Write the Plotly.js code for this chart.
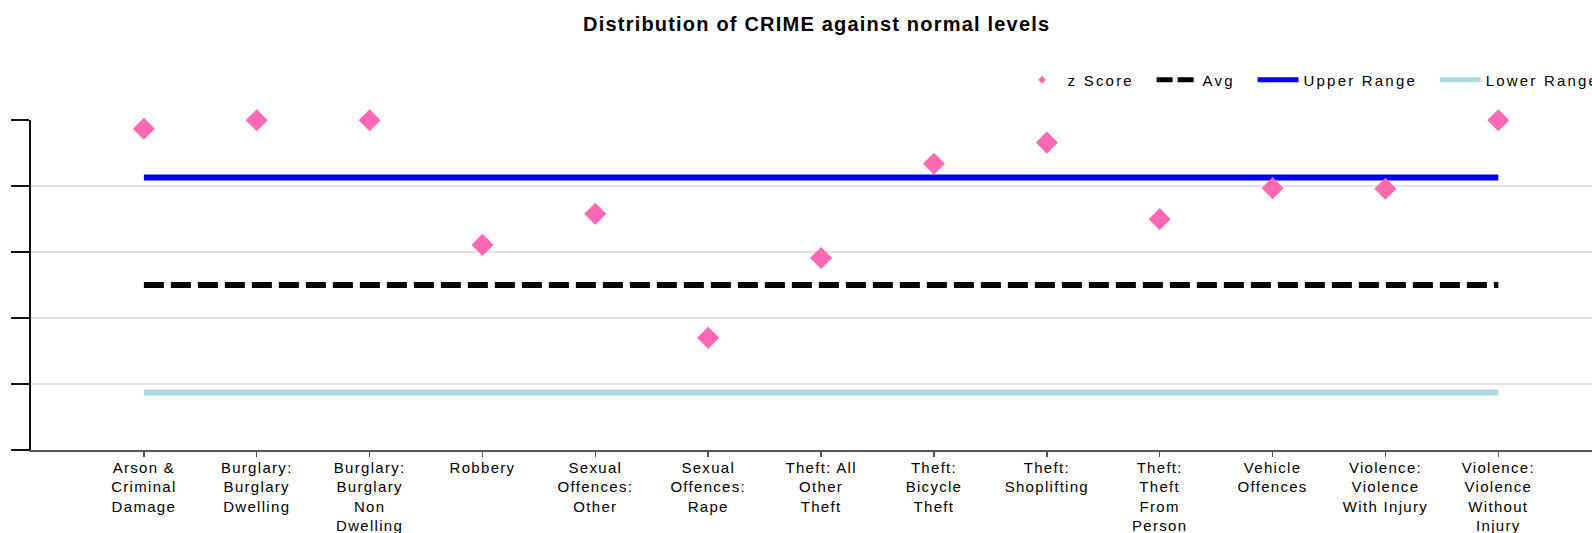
<!DOCTYPE html>
<html>
<head>
<meta charset="utf-8">
<script src="https://cdn.plot.ly/plotly-3.0.1.min.js"></script>
<style>
  html, body { margin: 0; padding: 0; background: #fff; }
  #chart { width: 1592px; height: 533px; }
  .xtick text { letter-spacing: 1.3px; }
  .legendtext { letter-spacing: 2.2px; }
  .gtitle { letter-spacing: 1.2px; }
</style>
</head>
<body>
<div id="chart"></div>
<script>
const categories = [
  "Arson & Criminal Damage",
  "Burglary: Burglary Dwelling",
  "Burglary: Burglary Non Dwelling",
  "Robbery",
  "Sexual Offences: Other",
  "Sexual Offences: Rape",
  "Theft: All Other Theft",
  "Theft: Bicycle Theft",
  "Theft: Shoplifting",
  "Theft: Theft From Person",
  "Vehicle Offences",
  "Violence: Violence With Injury",
  "Violence: Violence Without Injury"
];
const tickLabels = [
  "Arson &amp;<br>Criminal<br>Damage",
  "Burglary:<br>Burglary<br>Dwelling",
  "Burglary:<br>Burglary<br>Non<br>Dwelling",
  "Robbery",
  "Sexual<br>Offences:<br>Other",
  "Sexual<br>Offences:<br>Rape",
  "Theft: All<br>Other<br>Theft",
  "Theft:<br>Bicycle<br>Theft",
  "Theft:<br>Shoplifting",
  "Theft:<br>Theft<br>From<br>Person",
  "Vehicle<br>Offences",
  "Violence:<br>Violence<br>With Injury",
  "Violence:<br>Violence<br>Without<br>Injury"
];
const seriesNames = ["z Score", "Avg", "Upper Range", "Lower Range"];
const zScore = [2.37, 2.5, 2.5, 0.61, 1.08, -0.80, 0.41, 1.84, 2.16, 1.00, 1.47, 1.46, 2.5];
const avg = [0, 0, 0, 0, 0, 0, 0, 0, 0, 0, 0, 0, 0];
const upperRange = [1.63, 1.63, 1.63, 1.63, 1.63, 1.63, 1.63, 1.63, 1.63, 1.63, 1.63, 1.63, 1.63];
const lowerRange = [-1.63, -1.63, -1.63, -1.63, -1.63, -1.63, -1.63, -1.63, -1.63, -1.63, -1.63, -1.63, -1.63];

// legend labels padded with trailing non-breaking spaces for item spacing
const pad = '\u00a0\u00a0';

const traces = [
  { x: categories, y: upperRange, type: 'scatter', mode: 'lines', name: seriesNames[2],
    line: { color: '#0000FF', width: 6 }, showlegend: false },
  { x: categories, y: lowerRange, type: 'scatter', mode: 'lines', name: seriesNames[3],
    line: { color: '#ADD8E6', width: 6 }, showlegend: false },
  { x: categories, y: avg, type: 'scatter', mode: 'lines', name: seriesNames[1],
    line: { color: '#000000', width: 6, dash: '20px,7px' }, showlegend: false },
  { x: categories, y: zScore, type: 'scatter', mode: 'markers', name: seriesNames[0],
    marker: { symbol: 'diamond', color: '#FF69B4', size: 17 }, cliponaxis: false, showlegend: false },
  // legend entries
  { x: [null], y: [null], type: 'scatter', mode: 'markers', name: seriesNames[0] + pad,
    marker: { symbol: 'diamond', color: '#FF69B4', size: 6 } },
  { x: [null], y: [null], type: 'scatter', mode: 'lines', name: seriesNames[1] + pad,
    line: { color: '#000000', width: 5, dash: '16px,5px' } },
  { x: [null], y: [null], type: 'scatter', mode: 'lines', name: seriesNames[2] + pad,
    line: { color: '#0000FF', width: 5 } },
  { x: [null], y: [null], type: 'scatter', mode: 'lines', name: seriesNames[3],
    line: { color: '#ADD8E6', width: 5 } }
];

const layout = {
  width: 1592, height: 533,
  margin: { l: 31, r: 0, t: 120, b: 83, pad: 0, autoexpand: false },
  paper_bgcolor: '#ffffff', plot_bgcolor: '#ffffff',
  font: { family: 'Liberation Sans, Arial, sans-serif', color: '#000000', size: 15 },
  title: {
    text: 'Distribution of CRIME against normal levels',
    font: { family: 'Liberation Sans, Arial, sans-serif', size: 20, color: '#000000', weight: 'bold' },
    x: 0.513, xref: 'container', xanchor: 'center',
    y: 0.955, yref: 'container', yanchor: 'middle'
  },
  xaxis: {
    type: 'category',
    range: [-1, 12.83],
    tickvals: categories, ticktext: tickLabels,
    tickangle: 0,
    showgrid: false, zeroline: false,
    showline: true, linecolor: '#555555', linewidth: 1.5,
    ticks: 'outside', ticklen: 5, tickwidth: 1.5, tickcolor: '#555555',
    ticklabelstandoff: -2,
    tickfont: { size: 15, color: '#000000' },
    fixedrange: true
  },
  yaxis: {
    range: [-2.5, 2.503],
    tickmode: 'linear', tick0: -2.5, dtick: 1,
    showticklabels: false,
    showgrid: true, gridcolor: '#e2e2e2', gridwidth: 1.5,
    zeroline: false,
    showline: true, linecolor: '#111111', linewidth: 2,
    ticks: 'outside', ticklen: 18, tickwidth: 2, tickcolor: '#111111',
    fixedrange: true
  },
  showlegend: true,
  legend: {
    orientation: 'h',
    x: 0.6314, xanchor: 'left',
    y: 1.121, yanchor: 'middle',
    font: { size: 15, color: '#000000' },
    bgcolor: 'rgba(0,0,0,0)',
    itemwidth: 41,
    traceorder: 'normal'
  },
  hovermode: false
};

Plotly.newPlot('chart', traces, layout, { displayModeBar: false, staticPlot: true });
</script>
</body>
</html>
